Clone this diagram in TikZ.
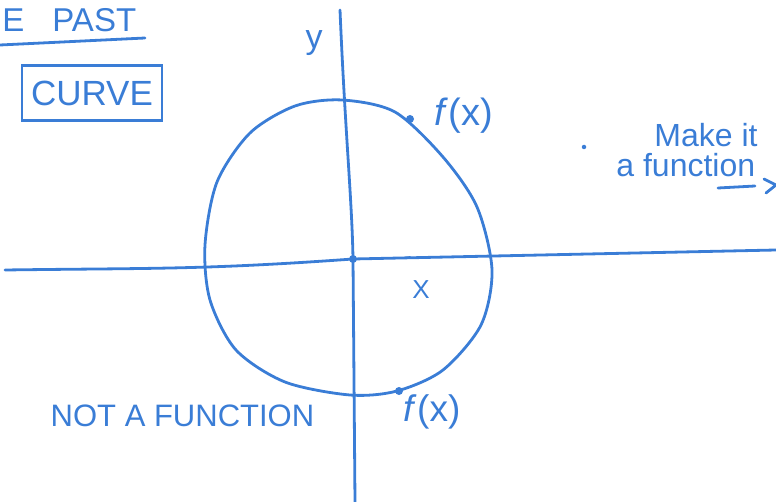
\documentclass[tikz,border=0pt]{standalone}
\usepackage{fontspec}
\setmainfont{Liberation Sans}
\definecolor{penblue}{HTML}{3A7DD6}

\begin{document}
\begin{tikzpicture}[x=1pt, y=-1pt, line width=2.8pt, draw=penblue, text=penblue,
    pen/.style={draw=penblue, line width=2.8pt, line cap=round, line join=round},
    dotmark/.style={circle, fill=penblue, inner sep=0pt, minimum size=8pt}]
  \useasboundingbox (0,0) rectangle (776,502);
  \clip (0,0) rectangle (776,502);
  % title corner
  \node[anchor=base west, inner sep=0pt, font=\fontsize{33}{33}\selectfont] (past) at (1,32) {E\hspace{28pt}PAST};
  \coordinate (pastL) at (0,45);
  \coordinate (pastR) at (145,38);
  \draw[pen] (pastL) -- (pastR);
  \node[draw=penblue, line width=2.8pt, minimum width=140pt, minimum height=55pt,
        font=\fontsize{35}{35}\selectfont] (curve) at (92,93) {CURVE};
  % axes
  \coordinate (origin) at (353,259);
  \coordinate (xL) at (5,270);
  \coordinate (xR) at (776,250);
  \coordinate (yT) at (340,10);
  \coordinate (yB) at (355,502);
  \draw[pen] (xL) .. controls (150,268) and (200,270) .. (origin) -- (xR);
  \draw[pen] (yT) .. controls (345,130) and (352,200) .. (origin) -- (yB);
  \node[font=\fontsize{34}{34}\selectfont] (ylab) at (314,43) {y};
  \node[font=\fontsize{26}{26}\selectfont] (xlab) at (421,290) {X};
  \draw[pen, line width=1.8pt] (404,258) -- (410,257);
  % circle
  \draw[pen] plot[smooth cycle, tension=0.5] coordinates {
    (342,100) (395,112) (443,157) (477,207) (492,270) (481,325) (443,370)
    (397,391) (350,395) (285,382) (236,350) (210,300) (205,245) (217,182)
    (250,133) (295,106)};
  \node[dotmark] (o) at (origin) {};
  \node[dotmark] (ptop) at (410,119) {};
  \node[dotmark] (pbot) at (399,391) {};
  \node[anchor=west, font=\fontsize{38}{38}\selectfont] (ftop) at (430,116) {\textit{f}(x)};
  \node[anchor=west, font=\fontsize{37}{37}\selectfont] (fbot) at (399,412) {\textit{f}(x)};
  % notes
  \node[anchor=west, font=\fontsize{31}{31}\selectfont] (notf) at (46,416) {NOT A FUNCTION};
  \node[anchor=base west, inner sep=0pt, font=\fontsize{32}{32}\selectfont] (make) at (653,147) {Make it};
  \node[anchor=base west, inner sep=0pt, font=\fontsize{32}{32}\selectfont] (afun) at (615,177) {a function};
  \node[dotmark, minimum size=4.5pt] (mdot) at (584,147) {};
  \coordinate (ulL) at (718,188);
  \coordinate (ulR) at (755,186);
  \draw[pen] (ulL) -- (ulR);
  \draw[pen] (764,179) -- (776,185) -- (766,193);
\end{tikzpicture}
\end{document}
